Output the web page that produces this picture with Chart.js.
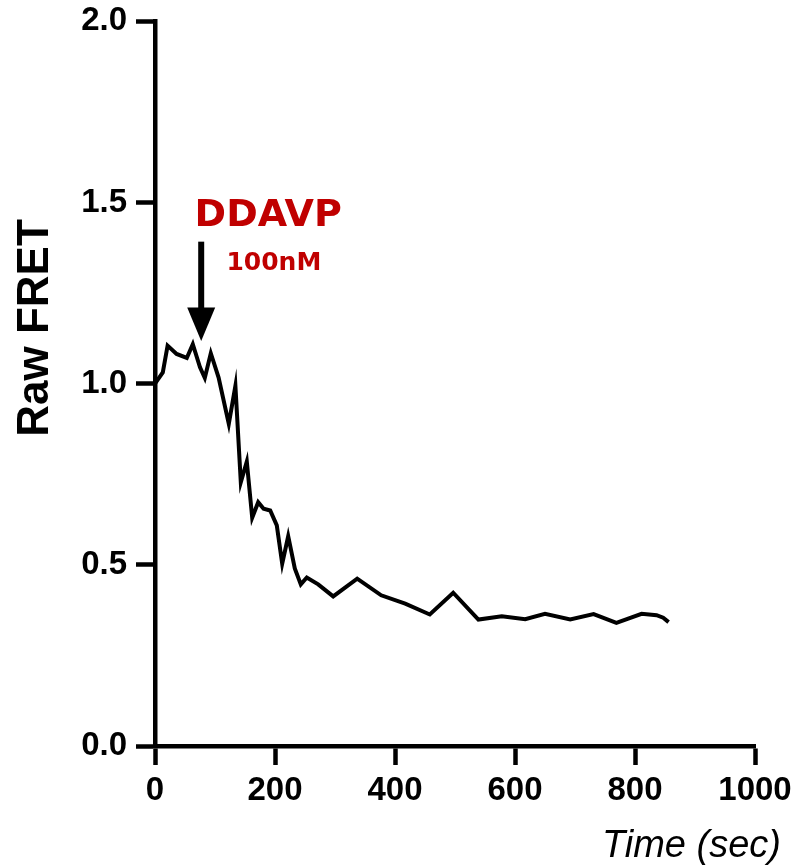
<!DOCTYPE html>
<html>
<head>
<meta charset="utf-8">
<script src="https://cdn.jsdelivr.net/npm/chart.js@4"></script>
<style>
  body { margin: 0; background: #fff; }
  #wrap { width: 800px; height: 866px; }
</style>
</head>
<body>
<div id="wrap"><canvas id="chart" width="800" height="866"></canvas></div>
<script>
// time points (sec) and raw FRET values
const timeSec = [0, 13, 21, 36, 53, 63, 75, 83, 93, 106, 123, 134, 143, 153, 162, 172, 181, 192, 203, 212,
  222, 233, 243, 253, 272, 297, 337, 377, 417, 458, 497, 539, 578, 617, 650, 692, 731, 769, 811, 836, 847, 856];
const rawFret = [1.000, 1.031, 1.105, 1.082, 1.071, 1.109, 1.045, 1.016, 1.084, 1.017, 0.889, 0.994, 0.728, 0.785,
  0.630, 0.673, 0.655, 0.650, 0.609, 0.503, 0.579, 0.490, 0.446, 0.465, 0.446, 0.413, 0.462, 0.416, 0.393, 0.363,
  0.423, 0.349, 0.358, 0.350, 0.365, 0.349, 0.364, 0.340, 0.365, 0.361, 0.354, 0.342];

const xTicks = [0, 200, 400, 600, 800, 1000];
const yTicks = [0.0, 0.5, 1.0, 1.5, 2.0];

// where DDAVP was added
const drugTime = 77;
const drugLabel = 'DDAVP';
const doseLabel = '100nM';

const red = '#c00000';
const sans = '"Liberation Sans", Arial, sans-serif';

const annotate = {
  id: 'annotate',
  afterDatasetsDraw(chart) {
    const { ctx, scales: { x, y } } = chart;
    ctx.save();
    // arrow
    const ax = x.getPixelForValue(drugTime);
    const tail = y.getPixelForValue(1.392);
    const base = y.getPixelForValue(1.21);
    const tip = y.getPixelForValue(1.118);
    ctx.strokeStyle = '#000';
    ctx.fillStyle = '#000';
    ctx.lineWidth = 6;
    ctx.beginPath();
    ctx.moveTo(ax, tail);
    ctx.lineTo(ax, base + 1);
    ctx.stroke();
    ctx.beginPath();
    ctx.moveTo(ax - 14, base);
    ctx.lineTo(ax + 14, base);
    ctx.lineTo(ax, tip);
    ctx.closePath();
    ctx.fill();

    // labels
    ctx.fillStyle = red;
    ctx.textBaseline = 'alphabetic';
    ctx.textAlign = 'left';
    ctx.font = 'bold 38px "DejaVu Sans", sans-serif';
    ctx.fillText(drugLabel, x.getPixelForValue(66), y.getPixelForValue(1.435));
    ctx.font = 'bold 25px "DejaVu Sans", sans-serif';
    ctx.fillText(doseLabel, x.getPixelForValue(119), y.getPixelForValue(1.314));

    // axis titles
    ctx.fillStyle = '#000';
    ctx.textAlign = 'right';
    ctx.font = 'italic 38px ' + sans;
    ctx.fillText('Time (sec)', 781, 857);

    ctx.translate(48, 328);
    ctx.rotate(-Math.PI / 2);
    ctx.textAlign = 'center';
    ctx.font = 'bold 44px ' + sans;
    ctx.fillText('Raw FRET', 0, 0);
    ctx.restore();
  }
};

new Chart(document.getElementById('chart'), {
  type: 'line',
  data: {
    datasets: [{
      data: timeSec.map((t, i) => ({ x: t, y: rawFret[i] })),
      borderColor: '#000',
      borderWidth: 4,
      pointRadius: 0,
      tension: 0,
      fill: false
    }]
  },
  options: {
    responsive: false,
    animation: false,
    layout: { padding: { left: 0, top: 8, right: 45, bottom: 0 } },
    plugins: { legend: { display: false }, tooltip: { enabled: false } },
    scales: {
      x: {
        type: 'linear',
        min: 0,
        max: 1000,
        afterBuildTicks: s => { s.ticks = xTicks.map(v => ({ value: v })); },
        afterFit: s => { s.height = 120; },
        border: { color: '#000', width: 4.5 },
        grid: { drawOnChartArea: false, color: '#000', tickLength: 19, tickWidth: 4.5 },
        ticks: {
          color: '#000', padding: 6, maxRotation: 0,
          font: { family: sans, weight: 'bold', size: 33 },
          callback: v => String(v)
        }
      },
      y: {
        min: 0,
        max: 2,
        afterBuildTicks: s => { s.ticks = yTicks.map(v => ({ value: v })); },
        afterFit: s => { s.width = 155; },
        border: { color: '#000', width: 4.5 },
        grid: { drawOnChartArea: false, color: '#000', tickLength: 19, tickWidth: 4.5 },
        ticks: {
          color: '#000', padding: 9,
          font: { family: sans, weight: 'bold', size: 33, lineHeight: 0.75 },
          callback: v => v.toFixed(1)
        }
      }
    }
  },
  plugins: [annotate]
});
</script>
</body>
</html>
